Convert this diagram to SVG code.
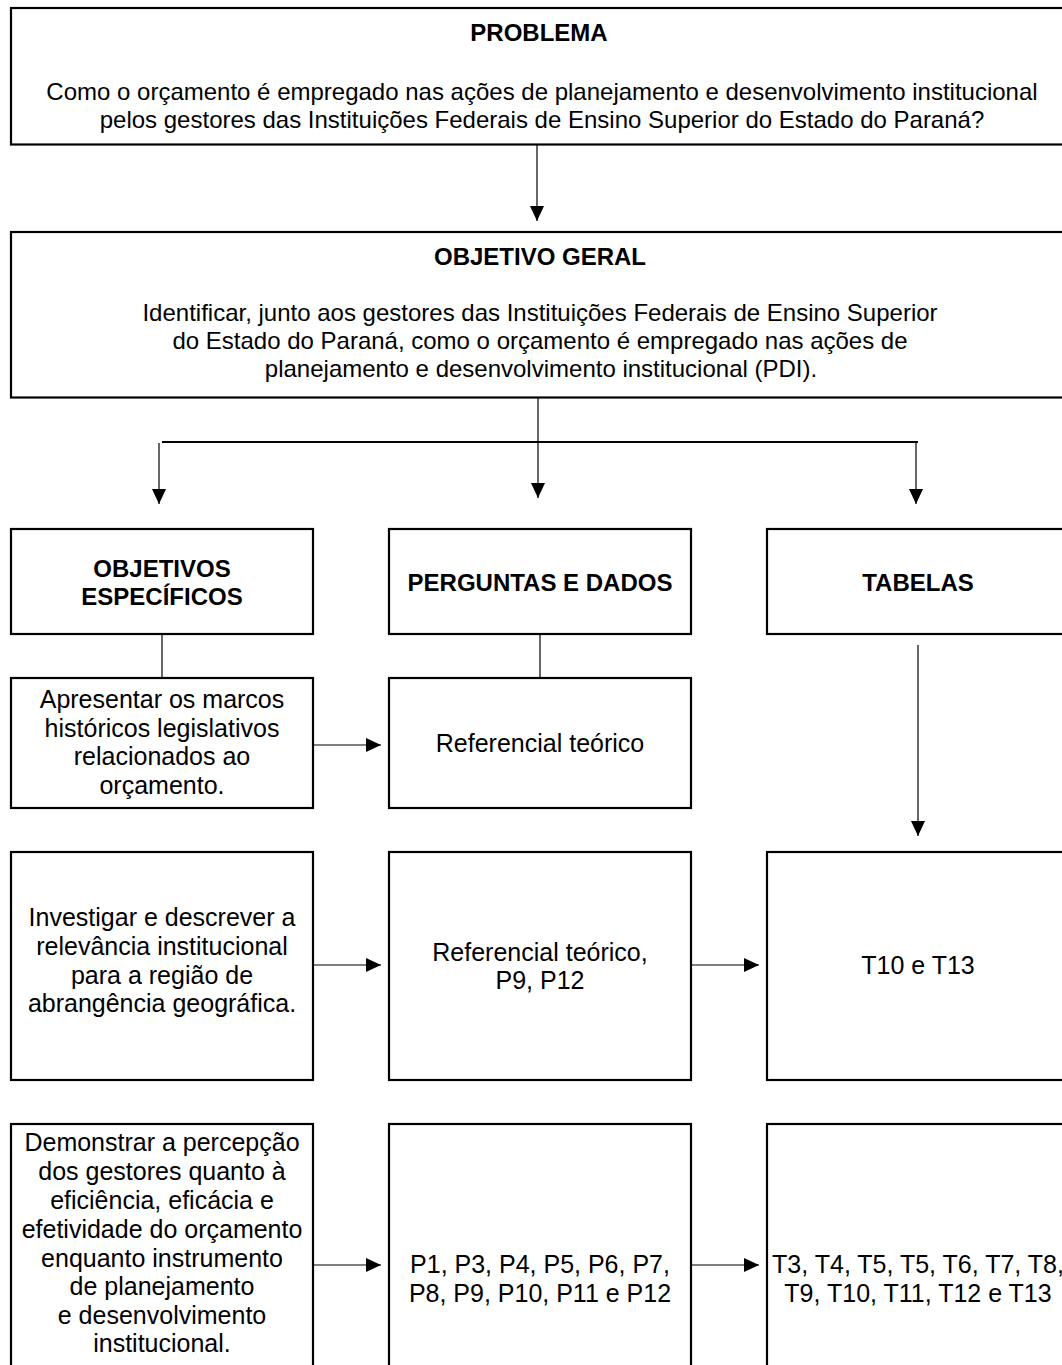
<svg xmlns="http://www.w3.org/2000/svg" width="1062" height="1365" viewBox="0 0 1062 1365">
  <style>
    .box { fill: #ffffff; stroke: #000000; stroke-width: 2.2; }
    .t { font-family: "Liberation Sans", Arial, sans-serif; font-size: 24px; fill: #000000; text-anchor: middle; }
    .s { font-size: 25px; }
    .b { font-weight: bold; }
    .ln { fill: none; stroke: #000000; stroke-width: 1.2; }
    .bar { fill: none; stroke: #000000; stroke-width: 2.2; }
  </style>
  <defs>
    <marker id="ah" markerUnits="userSpaceOnUse" markerWidth="16" markerHeight="16" viewBox="0 0 16 16" refX="15" refY="8" orient="auto">
      <path d="M0,1 L15,8 L0,15 Z" fill="#000000"/>
    </marker>
  </defs>
  <rect width="1062" height="1365" fill="#ffffff"/>

  <!-- top-level boxes -->
  <g id="problema">
    <rect class="box" x="11" y="8" width="1062" height="136.5"/>
    <text class="t b" x="539" y="41">PROBLEMA</text>
    <text class="t" x="542" y="100">Como o orçamento é empregado nas ações de planejamento e desenvolvimento institucional</text>
    <text class="t" x="542" y="128">pelos gestores das Instituições Federais de Ensino Superior do Estado do Paraná?</text>
  </g>

  <g id="objetivo-geral">
    <rect class="box" x="11" y="232" width="1062" height="165.5"/>
    <text class="t b" x="540" y="265">OBJETIVO GERAL</text>
    <text class="t" x="540" y="321">Identificar, junto aos gestores das Instituições Federais de Ensino Superior</text>
    <text class="t" x="540" y="349">do Estado do Paraná, como o orçamento é empregado nas ações de</text>
    <text class="t" x="541" y="377">planejamento e desenvolvimento institucional (PDI).</text>
  </g>

  <!-- column headers -->
  <g id="objetivos-especificos">
    <rect class="box" x="11" y="529" width="302" height="105"/>
    <text class="t b" x="162" y="577">OBJETIVOS</text>
    <text class="t b" x="162" y="605">ESPECÍFICOS</text>
  </g>
  <g id="perguntas-dados">
    <rect class="box" x="389" y="529" width="302" height="105"/>
    <text class="t b" x="540" y="591">PERGUNTAS E DADOS</text>
  </g>
  <g id="tabelas">
    <rect class="box" x="767" y="529" width="302" height="105"/>
    <text class="t b" x="918" y="591">TABELAS</text>
  </g>

  <!-- row 1 -->
  <g id="obj-marcos">
    <rect class="box" x="11" y="678" width="302" height="130"/>
    <text class="t s" x="162" y="708">Apresentar os marcos</text>
    <text class="t s" x="162" y="737">históricos legislativos</text>
    <text class="t s" x="162" y="765">relacionados ao</text>
    <text class="t s" x="162" y="794">orçamento.</text>
  </g>
  <g id="dados-marcos">
    <rect class="box" x="389" y="678" width="302" height="130"/>
    <text class="t s" x="540" y="752">Referencial teórico</text>
  </g>

  <!-- row 2 -->
  <g id="obj-relevancia">
    <rect class="box" x="11" y="852" width="302" height="228"/>
    <text class="t s" x="162" y="926">Investigar e descrever a</text>
    <text class="t s" x="162" y="955">relevância institucional</text>
    <text class="t s" x="162" y="984">para a região de</text>
    <text class="t s" x="162" y="1012">abrangência geográfica.</text>
  </g>
  <g id="dados-relevancia">
    <rect class="box" x="389" y="852" width="302" height="228"/>
    <text class="t s" x="540" y="961">Referencial teórico,</text>
    <text class="t s" x="540" y="989">P9, P12</text>
  </g>
  <g id="tab-relevancia">
    <rect class="box" x="767" y="852" width="302" height="228"/>
    <text class="t s" x="918" y="974">T10 e T13</text>
  </g>

  <!-- row 3 -->
  <g id="obj-percepcao">
    <rect class="box" x="11" y="1124" width="302" height="260"/>
    <text class="t s" x="162" y="1151">Demonstrar a percepção</text>
    <text class="t s" x="162" y="1180">dos gestores quanto à</text>
    <text class="t s" x="162" y="1209">eficiência, eficácia e</text>
    <text class="t s" x="162" y="1238">efetividade do orçamento</text>
    <text class="t s" x="162" y="1267">enquanto instrumento</text>
    <text class="t s" x="162" y="1295">de planejamento</text>
    <text class="t s" x="162" y="1324">e desenvolvimento</text>
    <text class="t s" x="162" y="1352">institucional.</text>
  </g>
  <g id="dados-percepcao">
    <rect class="box" x="389" y="1124" width="302" height="260"/>
    <text class="t s" x="540" y="1273">P1, P3, P4, P5, P6, P7,</text>
    <text class="t s" x="540" y="1302">P8, P9, P10, P11 e P12</text>
  </g>
  <g id="tab-percepcao">
    <rect class="box" x="767" y="1124" width="302" height="260"/>
    <text class="t s" x="918" y="1273">T3, T4, T5, T5, T6, T7, T8,</text>
    <text class="t s" x="918" y="1302">T9, T10, T11, T12 e T13</text>
  </g>

  <!-- connectors -->
  <g id="connectors">
    <line class="ln" x1="537" y1="145" x2="537" y2="221" marker-end="url(#ah)"/>
    <line class="ln" x1="538" y1="398" x2="538" y2="498" marker-end="url(#ah)"/>
    <line class="bar" x1="162" y1="442" x2="918" y2="442"/>
    <line class="ln" x1="159" y1="443" x2="159" y2="504" marker-end="url(#ah)"/>
    <line class="ln" x1="916" y1="443" x2="916" y2="504" marker-end="url(#ah)"/>
    <line class="ln" x1="162" y1="635" x2="162" y2="678"/>
    <line class="ln" x1="540" y1="635" x2="540" y2="678"/>
    <line class="ln" x1="918" y1="645" x2="918" y2="836" marker-end="url(#ah)"/>
    <line class="ln" x1="313" y1="745" x2="381" y2="745" marker-end="url(#ah)"/>
    <line class="ln" x1="313" y1="965" x2="381" y2="965" marker-end="url(#ah)"/>
    <line class="ln" x1="691" y1="965" x2="759" y2="965" marker-end="url(#ah)"/>
    <line class="ln" x1="313" y1="1265" x2="381" y2="1265" marker-end="url(#ah)"/>
    <line class="ln" x1="691" y1="1265" x2="759" y2="1265" marker-end="url(#ah)"/>
  </g>
</svg>
